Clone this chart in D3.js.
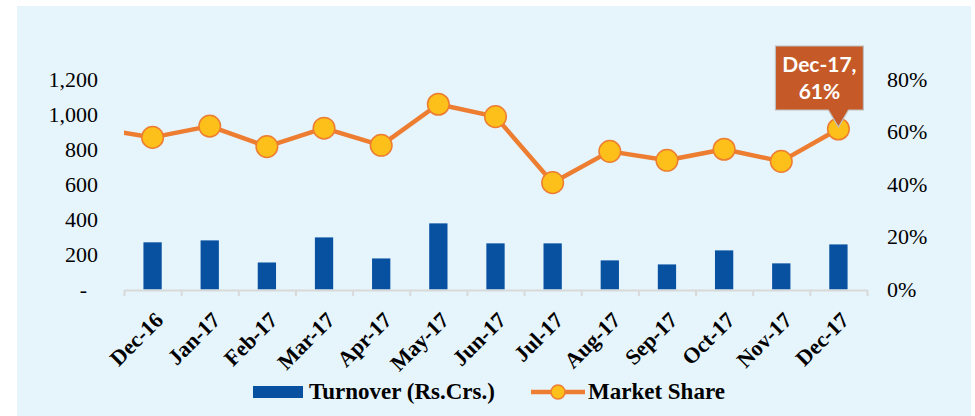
<!DOCTYPE html>
<html><head><meta charset="utf-8">
<script src="https://cdn.jsdelivr.net/npm/d3@7"></script>
<style>body{margin:0;background:#fff}svg{display:block}</style>
</head><body>
<svg id="chart" width="975" height="416"></svg>
<script>
const months = ["Dec-16","Jan-17","Feb-17","Mar-17","Apr-17","May-17","Jun-17","Jul-17","Aug-17","Sep-17","Oct-17","Nov-17","Dec-17"];
const turnover = [269, 280, 154, 297, 177, 377, 263, 263, 166, 143, 223, 149, 257];
const marketShare = [0.578, 0.621, 0.543, 0.613, 0.548, 0.704, 0.657, 0.406, 0.525, 0.491, 0.533, 0.487, 0.610];
const priorShare = 0.614; // previous month, only its segment into the plot is visible
const leftTicks = [0, 200, 400, 600, 800, 1000, 1200];
const rightTicks = [0, 0.2, 0.4, 0.6, 0.8];
const legendLabels = ["Turnover (Rs.Crs.)", "Market Share"];
const calloutLines = ["Dec-17,", "61%"];

const svg = d3.select("#chart");
const L = 124, R = 867, T = 79, B = 289.5;
const serif = "'Liberation Serif','Times New Roman',serif";
const orange = "#ED7D31", gold = "#FDBF1A", blue = "#0751A0";

svg.append("rect").attr("x",17).attr("y",6).attr("width",954).attr("height",410).attr("fill","#E6F4FC");

const x = d3.scaleBand().domain(months).range([L,R]).paddingInner(0.68).paddingOuter(0.34);
const xb = d3.scaleLinear().domain([0, months.length]).range([L,R]);
const yL = d3.scaleLinear().domain([0,1200]).range([B,T]);
const yR = d3.scaleLinear().domain([0,0.8]).range([B,T]);
const cx = m => x(m) + x.bandwidth()/2;

// bars
svg.append("g").selectAll("rect").data(months).join("rect")
  .attr("x", m => x(m)).attr("width", x.bandwidth())
  .attr("y", (m,i) => yL(turnover[i])).attr("height", (m,i) => B - yL(turnover[i]))
  .attr("fill", blue);

// x axis
const gx = svg.append("g").attr("transform",`translate(0,${B+0.5})`)
  .call(d3.axisBottom(xb).tickValues(d3.range(months.length+1)).tickFormat("").tickSize(6).tickSizeOuter(0));
gx.select(".domain").attr("stroke","#D9D9D9").attr("stroke-width",2);
gx.selectAll(".tick line").attr("stroke","#D9D9D9").attr("stroke-width",2);

svg.append("g").selectAll("text").data(months).join("text")
  .attr("transform", m => `translate(${cx(m)+1},${B+21}) rotate(-45)`)
  .attr("text-anchor","end").attr("dy","0.7em")
  .attr("font-family", serif).attr("font-weight","bold").attr("font-size",22).attr("fill","#000")
  .text(m => m);

// left axis
const gl = svg.append("g").attr("transform",`translate(${L},0)`)
  .call(d3.axisLeft(yL).tickValues(leftTicks).tickSize(0).tickPadding(26)
    .tickFormat(v => v === 0 ? "-" : d3.format(",")(v)));
gl.select(".domain").remove();
gl.selectAll("text").attr("font-family", serif).attr("font-size",22).attr("fill","#000")
  .attr("dx", v => v === 0 ? -11 : 0);

// right axis
const gr = svg.append("g").attr("transform",`translate(${R},0)`)
  .call(d3.axisRight(yR).tickValues(rightTicks).tickSize(0).tickPadding(20).tickFormat(d3.format(".0%")));
gr.select(".domain").remove();
gr.selectAll("text").attr("font-family", serif).attr("font-size",22).attr("fill","#000");

// line
svg.append("clipPath").attr("id","plotclip").append("rect").attr("x",L).attr("y",0).attr("width",975-L).attr("height",416);
const pts = [[cx(months[0]) - x.step(), yR(priorShare)]].concat(months.map((m,i) => [cx(m), yR(marketShare[i])]));
svg.append("path").attr("clip-path","url(#plotclip)")
  .attr("d", d3.line()(pts)).attr("fill","none").attr("stroke",orange).attr("stroke-width",4.5).attr("stroke-linejoin","round");
svg.append("g").selectAll("circle").data(months).join("circle")
  .attr("cx", m => cx(m)).attr("cy", (m,i) => yR(marketShare[i])).attr("r",10.8)
  .attr("fill",gold).attr("stroke",orange).attr("stroke-width",1.5);

// callout
const lx = cx(months[12]), ly = yR(marketShare[12]);
const bx0 = lx - 63, bx1 = lx + 25, by0 = 46, by1 = 110;
svg.append("path")
  .attr("d", `M${bx0},${by0}H${bx1}V${by1}H${lx+10}L${lx},${ly-2}L${lx-10},${by1}H${bx0}Z`)
  .attr("fill","#C55A28").attr("stroke","#BFBFBF").attr("stroke-width",1.2);
svg.append("g").selectAll("text").data(calloutLines).join("text")
  .attr("x", (bx0+bx1)/2).attr("y", (d,i) => 72 + i*27)
  .attr("text-anchor","middle").attr("font-family","Lato,'Liberation Sans',sans-serif")
  .attr("font-weight","bold").attr("font-size",21).attr("fill","#fff").text(d => d);

// legend
const lg = svg.append("g");
lg.append("rect").attr("x",253).attr("y",386).attr("width",50).attr("height",12).attr("fill",blue);
lg.append("text").attr("x",309).attr("y",399).attr("font-family",serif).attr("font-weight","bold").attr("font-size",23).text(legendLabels[0]);
lg.append("line").attr("x1",531).attr("x2",585).attr("y1",392).attr("y2",392).attr("stroke",orange).attr("stroke-width",4.5);
lg.append("circle").attr("cx",558).attr("cy",392).attr("r",7).attr("fill",gold).attr("stroke",orange).attr("stroke-width",1.5);
lg.append("text").attr("x",588).attr("y",399).attr("font-family",serif).attr("font-weight","bold").attr("font-size",23).text(legendLabels[1]);
</script>
</body></html>
